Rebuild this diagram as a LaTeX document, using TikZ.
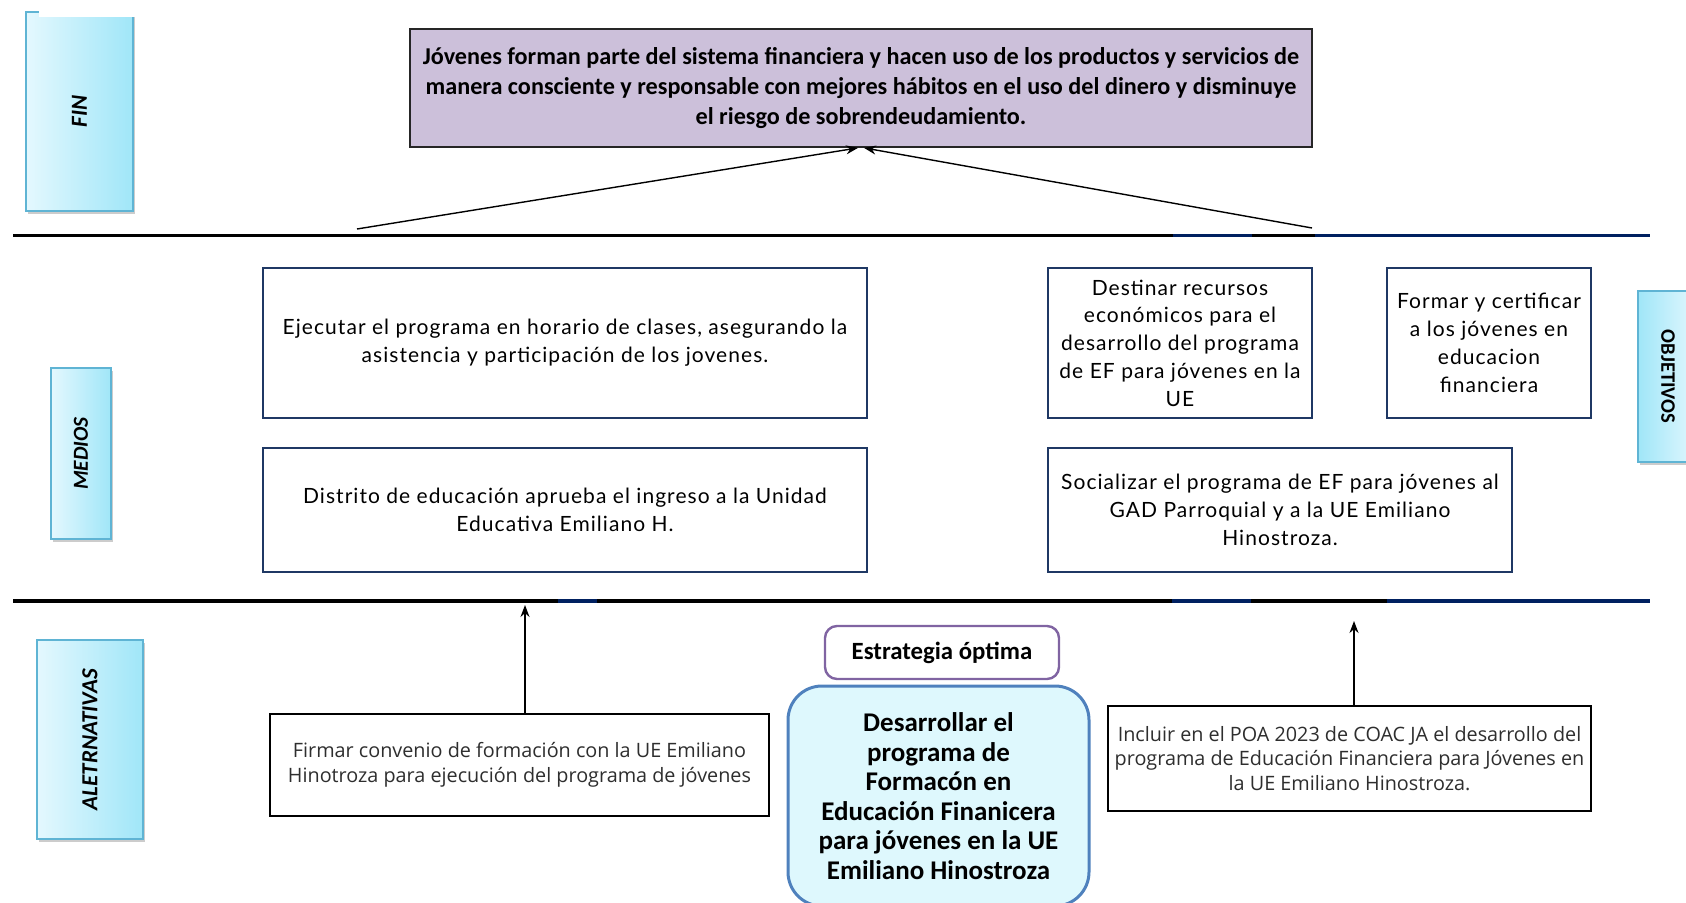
\documentclass[tikz,border=0pt]{standalone}
\usepackage{fontspec}
\setmainfont{Carlito}
\newfontfamily\medfont[LetterSpace=5]{Lato}
\newfontfamily\altfont{Open Sans}
\usepackage{graphicx}
\usetikzlibrary{arrows.meta}
\usetikzlibrary{shadows}

\definecolor{finfill}{RGB}{204,192,218}
\definecolor{navyline}{RGB}{31,56,100}
\definecolor{bluesep}{RGB}{0,32,96}
\definecolor{tabline}{RGB}{95,180,212}
\definecolor{tableft}{RGB}{228,248,254}
\definecolor{tabright}{RGB}{160,230,248}
\definecolor{optline}{RGB}{128,100,162}
\definecolor{bigline}{RGB}{79,129,189}
\definecolor{bigfill}{RGB}{222,248,253}

\tikzset{
  tabbox/.style={draw=tabline, line width=1.1pt, inner sep=0pt,
    drop shadow={shadow xshift=1pt, shadow yshift=-1.5pt, opacity=0.4},
    font=\bfseries\itshape\fontsize{11.5}{13}\selectfont},
  medbox/.style={draw=navyline, line width=0.9pt, fill=white, align=center,
    inner sep=0pt, font=\medfont\fontsize{10.5}{13.9}\selectfont},
  altbox/.style={draw=black, line width=0.7pt, fill=white, align=center,
    inner sep=0pt, text=black!82, font=\altfont\fontsize{9.9}{12.4}\selectfont},
  sepline/.style={line width=1.8pt},
  uparrow/.style={-{Stealth[length=6pt,width=4.5pt]}, line width=0.7pt}
}

\begin{document}
\begin{tikzpicture}[x=0.5pt,y=0.5pt,yscale=-1,xscale=1]
\useasboundingbox (0,0) rectangle (1686,903);

% Side tabs
\node (fintab) [tabbox, left color=tableft, right color=tabright, minimum width=53.5pt, minimum height=99.5pt] at (79.5,111.5) {\rotatebox{90}{FIN}};
\fill [white] (39,0) rectangle (136,17);
\node (mediostab) [tabbox, left color=tableft, right color=tabright, minimum width=30pt, minimum height=85.5pt, font=\bfseries\itshape\fontsize{10.7}{12}\selectfont] at (81,453.5) {\rotatebox{90}{MEDIOS}};
\node (alttab) [tabbox, left color=tableft, right color=tabright, minimum width=53pt, minimum height=99.5pt] at (90,739.5) {\rotatebox{90}{ALETRNATIVAS}};
\node (objtab) [tabbox, left color=tabright, right color=tableft, minimum width=30pt, minimum height=85.5pt, font=\bfseries\fontsize{10.3}{12}\selectfont] at (1668,376.5) {\rotatebox{-90}{OBJETIVOS}};

% Separator lines
\draw [sepline] (13,235.5) -- (1650,235.5);
\draw [sepline, bluesep] (1173,235.5) -- (1252,235.5);
\draw [sepline, bluesep] (1315,235.5) -- (1650,235.5);
\draw [sepline] (13,601) -- (1650,601);
\draw [sepline, bluesep] (558,601) -- (597,601);
\draw [sepline, bluesep] (1172,601) -- (1251,601);
\draw [sepline, bluesep] (1387,601) -- (1650,601);

% Fin
\node (fin) [draw=black!85, line width=0.9pt, fill=finfill, align=center, inner sep=0pt, minimum width=451pt, minimum height=59pt, font=\bfseries\fontsize{12.1}{15}\selectfont] at (861,88) {J\'ovenes forman parte del sistema financiera y hacen uso de los productos y servicios de\\manera consciente y responsable con mejores h\'abitos en el uso del dinero y disminuye\\el riesgo de sobrendeudamiento.};

% Medios
\node (ejecutar) [medbox, minimum width=302pt, minimum height=75pt] at (565,343) {Ejecutar el programa en horario de clases, asegurando la\\asistencia y participaci\'on de los jovenes.};
\node (distrito) [medbox, minimum width=302pt, minimum height=62pt] at (565,510) {Distrito de educaci\'on aprueba el ingreso a la Unidad\\Educativa Emiliano H.};
\node (destinar) [medbox, minimum width=132pt, minimum height=75pt] at (1180,343) {Destinar recursos\\econ\'omicos para el\\desarrollo del programa\\de EF para j\'ovenes en la\\UE};
\node (formar) [medbox, minimum width=102pt, minimum height=75pt] at (1489,343) {Formar y certificar\\a los j\'ovenes en\\educacion\\financiera};
\node (socializar) [medbox, minimum width=232pt, minimum height=62pt] at (1280,510) {Socializar el programa de EF para j\'ovenes al\\GAD Parroquial y a la UE Emiliano\\Hinostroza.};

% Alternativas
\node (firmar) [altbox, minimum width=249.5pt, minimum height=51pt] at (519.5,765) {Firmar convenio de formaci\'on con la UE Emiliano\\Hinotroza para ejecuci\'on del programa de j\'ovenes};
\node (incluir) [altbox, minimum width=241.5pt, minimum height=52.5pt] at (1349.5,758.5) {Incluir en el POA 2023 de COAC JA el desarrollo del\\programa de Educaci\'on Financiera para J\'ovenes en\\la UE Emiliano Hinostroza.};
\node (estrategia) [draw=optline, line width=1.2pt, rounded corners=6pt, fill=white, inner sep=0pt, minimum width=117pt, minimum height=26.5pt, font=\bfseries\fontsize{12.4}{14}\selectfont] at (942,652.5) {Estrategia \'optima};
\node (desarrollar) [draw=bigline, line width=1.5pt, rounded corners=17pt, fill=bigfill, align=center, inner sep=0pt, minimum width=150.5pt, minimum height=110pt, font=\bfseries\fontsize{13.5}{14.75}\selectfont] at (938.5,796) {Desarrollar el\\programa de\\Formac\'on en\\Educaci\'on Finanicera\\para j\'ovenes en la UE\\Emiliano Hinostroza};

% Arrows
\coordinate (finl) at (357,229);
\coordinate (finr) at (1312,228);
\coordinate (upl) at (525,605);
\coordinate (upr) at (1354,621);
\draw [uparrow] (finl) -- ([xshift=-1.5pt]fin.south);
\draw [uparrow] (finr) -- ([xshift=1.5pt]fin.south);
\draw [uparrow] (firmar.north -| upl) -- (upl);
\draw [uparrow] (incluir.north -| upr) -- (upr);

\end{tikzpicture}
\end{document}
